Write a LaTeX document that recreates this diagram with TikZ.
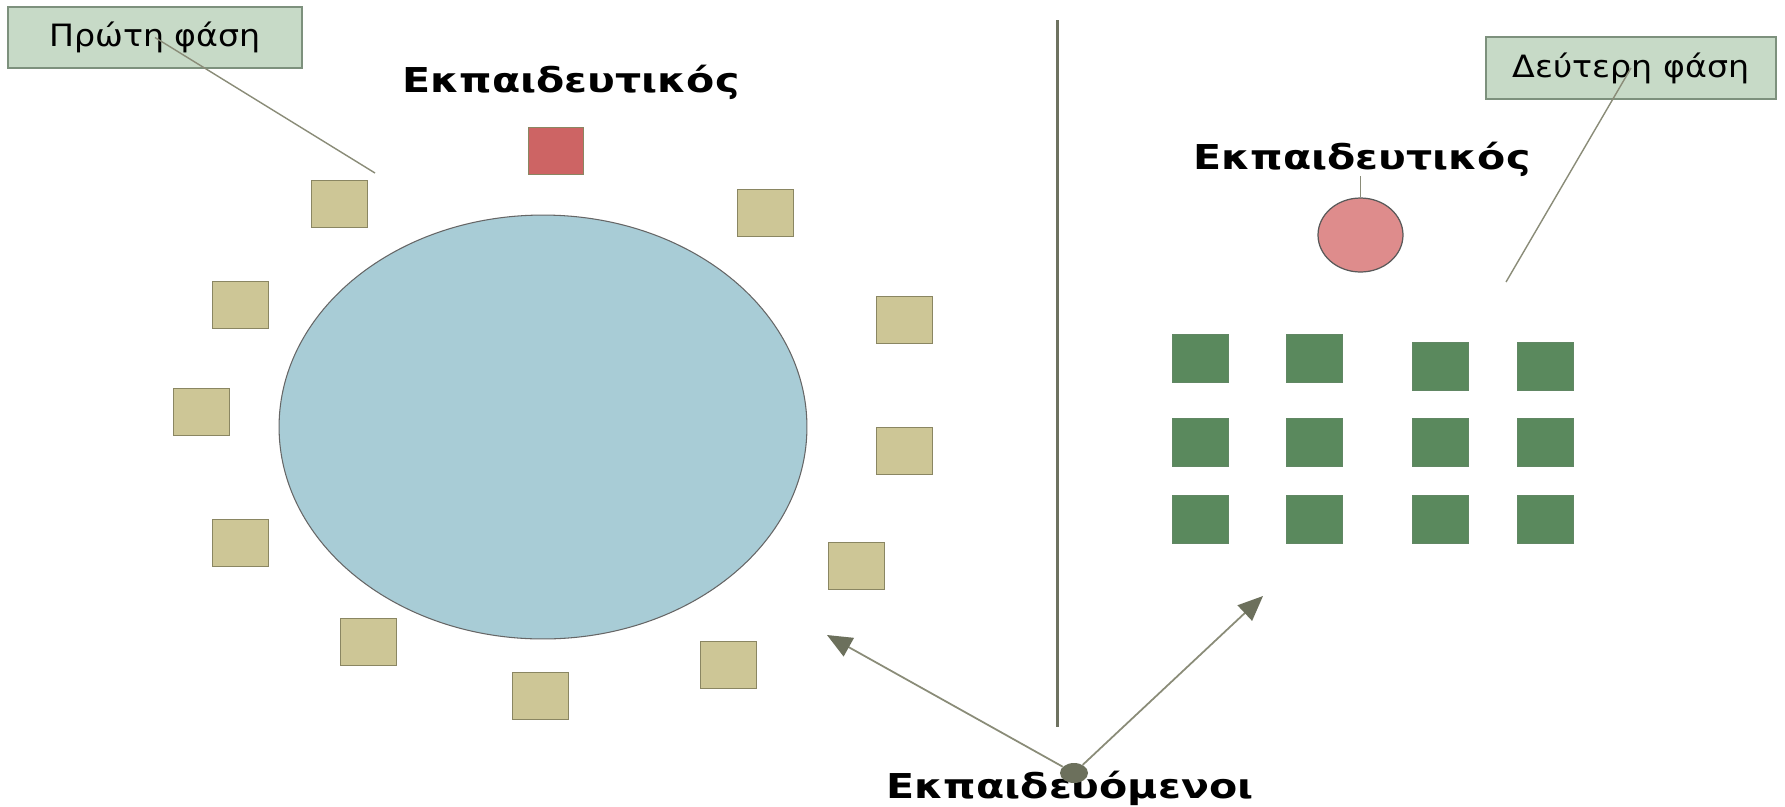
\documentclass[tikz,border=0pt]{standalone}
\usepackage{fontspec}
\setmainfont{DejaVu Sans}
\newfontfamily\widefont[FakeStretch=1.2]{DejaVu Sans}
\newfontfamily\labelfont[FakeStretch=1.08]{DejaVu Sans}
\usetikzlibrary{arrows.meta,positioning,shapes.geometric}
\definecolor{tablecolor}{RGB}{168,204,214}
\definecolor{seatcolor}{RGB}{205,198,150}
\definecolor{seatedge}{RGB}{138,134,98}
\definecolor{teachcolor}{RGB}{205,100,100}
\definecolor{podiumcolor}{RGB}{222,140,140}
\definecolor{deskcolor}{RGB}{90,137,93}
\definecolor{labelcolor}{RGB}{199,218,199}
\definecolor{labeledge}{RGB}{125,145,125}
\definecolor{leadcolor}{RGB}{138,140,120}
\definecolor{arrowcolor}{RGB}{108,112,92}

\begin{document}
\begin{tikzpicture}[x=0.02cm,y=-0.02cm,
    seat/.style={draw=seatedge,line width=0.8pt,fill=seatcolor,minimum width=1.12cm,minimum height=0.94cm,inner sep=0,anchor=north west},
    desk/.style={draw=deskcolor!80!gray,line width=0.6pt,fill=deskcolor,minimum width=1.12cm,minimum height=0.96cm,inner sep=0,anchor=north west},
    phase/.style={draw=labeledge,line width=0.9pt,fill=labelcolor,inner sep=0,font=\labelfont\fontsize{17.5}{19}\selectfont},
    title/.style={inner sep=0,anchor=base,font=\widefont\bfseries\fontsize{19.5}{22}\selectfont},
    lead/.style={draw=leadcolor,line width=0.8pt},
    pointer/.style={draw=leadcolor,line width=1pt,-{Triangle[length=0.5cm,width=0.42cm,color=arrowcolor]}}]
    % Background
    \useasboundingbox[fill=white] (0,0) rectangle (1785,806);

    % First phase: round table
    \node[ellipse,draw=gray!80!black,line width=0.6pt,fill=tablecolor,minimum width=10.56cm,minimum height=8.48cm] (table) at (543,427) {};
    \node[seat,draw=seatedge,fill=teachcolor,minimum width=1.1cm] (teacher1) at (528,127) {};
    \foreach \x/\y [count=\i] in {311/180,212/281,173/388,212/519,340/618,512/672,700/641,828/542,876/427,876/296,737/189}
        \node[seat] (seat\i) at (\x,\y) {};
    \node[title] (teach1) at (571,92) {Εκπαιδευτικός};

    % Divider
    \coordinate (divtop) at (1057,20);
    \coordinate (divbot) at (1057,727);
    \draw[draw=arrowcolor!90!gray,line width=1.7pt] (divtop) -- (divbot);

    % Second phase: rows of desks
    \foreach \x [count=\c] in {1172,1286,1412,1517} {
        \pgfmathsetmacro\shift{\c>2 ? 8 : 0}
        \node[desk] (desk\c-1) at (\x,334+\shift) {};
        \node[desk] (desk\c-2) at (\x,418) {};
        \node[desk] (desk\c-3) at (\x,495) {};
    }
    \node[ellipse,draw=gray!70!black,line width=0.7pt,fill=podiumcolor,minimum width=1.7cm,minimum height=1.48cm,inner sep=0] (podium) at (1360.5,235) {};
    \node[title] (teach2) at (1362,169) {Εκπαιδευτικός};
    \draw[lead] (teach2.south -| podium.north) -- (podium.north);

    % Phase labels
    \node[phase,minimum width=5.88cm,minimum height=1.22cm] (phase1) at (155,37.5) {Πρώτη φάση};
    \coordinate (lead1) at (375,173);
    \draw[lead] (phase1.center) -- (lead1);
    \node[phase,minimum width=5.8cm,minimum height=1.24cm] (phase2) at (1631,68) {Δεύτερη φάση};
    \coordinate (lead2) at (1506,282);
    \draw[lead] (phase2.center) -- (lead2);

    % Learners
    \node[title] (learners) at (1070,798) {Εκπαιδευόμενοι};
    \node[ellipse,fill=arrowcolor,minimum width=0.56cm,minimum height=0.4cm,inner sep=0] (dot) at (1074,773) {};
    \coordinate (aim1) at (827,635);
    \coordinate (aim2) at (1263,596);
    \draw[pointer] (dot) -- (aim1);
    \draw[pointer] (dot) -- (aim2);
\end{tikzpicture}
\end{document}
